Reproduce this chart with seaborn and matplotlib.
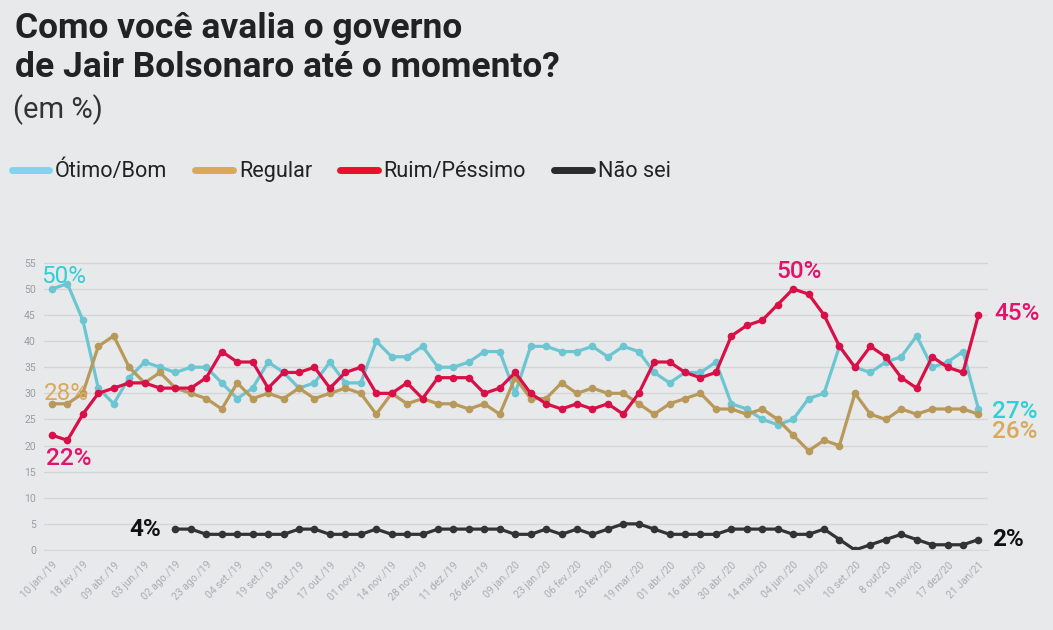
import numpy as np
import pandas as pd
import matplotlib
matplotlib.use('Agg')
import matplotlib.pyplot as plt
from matplotlib.lines import Line2D
import seaborn as sns

# datas das pesquisas (rótulo a cada duas pesquisas)
rotulos = ['10 jan./19', '18 fev./19', '09 abr./19', '03 jun./19', '02 ago./19', '23 ago./19',
           '04 set./19', '19 set./19', '04 out./19', '17 out./19', '01 nov./19', '14 nov./19',
           '28 nov./19', '11 dez./19', '26 dez./19', '09 jan./20', '23 jan./20', '06 fev./20',
           '20 fev./20', '19 mar./20', '01 abr./20', '16 abr./20', '30 abr./20', '14 mai./20',
           '04 jun./20', '10 jul./20', '10 set./20', '8 out/20', '19 nov/20', '17 dez/20',
           '21 Jan/21']

otimo_bom = [50, 51, 44, 31, 28, 33, 36, 35, 34, 35, 35, 32, 29, 31, 36, 34, 31, 32, 36, 32,
             32, 40, 37, 37, 39, 35, 35, 36, 38, 38, 30, 39, 39, 38, 38, 39, 37, 39, 38, 34,
             32, 34, 34, 36, 28, 27, 25, 24, 25, 29, 30, 39, 35, 34, 36, 37, 41, 35, 36, 38, 27]
regular = [28, 28, 30, 39, 41, 35, 32, 34, 31, 30, 29, 27, 32, 29, 30, 29, 31, 29, 30, 31,
           30, 26, 30, 28, 29, 28, 28, 27, 28, 26, 33, 29, 29, 32, 30, 31, 30, 30, 28, 26,
           28, 29, 30, 27, 27, 26, 27, 25, 22, 19, 21, 20, 30, 26, 25, 27, 26, 27, 27, 27, 26]
ruim_pessimo = [22, 21, 26, 30, 31, 32, 32, 31, 31, 31, 33, 38, 36, 36, 31, 34, 34, 35, 31, 34,
                35, 30, 30, 32, 29, 33, 33, 33, 30, 31, 34, 30, 28, 27, 28, 27, 28, 26, 30, 36,
                36, 34, 33, 34, 41, 43, 44, 47, 50, 49, 45, 39, 35, 39, 37, 33, 31, 37, 35, 34, 45]
nao_sei = [np.nan] * 8 + [4, 4, 3, 3, 3, 3, 3, 3, 4, 4, 3, 3, 3, 4, 3, 3, 3, 4, 4, 4,
                          4, 4, 3, 3, 4, 3, 4, 3, 4, 5, 5, 4, 3, 3, 3, 3, 4, 4, 4, 4,
                          3, 3, 4, 2, 0, 1, 2, 3, 2, 1, 1, 1, 2]

series = ['Ótimo/Bom', 'Regular', 'Ruim/Péssimo', 'Não sei']
cores_linha = ['#6cc6d2', '#b9995a', '#d90f48', '#333333']
cores_legenda = ['#80d4ee', '#d8a95b', '#e8102a', '#2b2b2b']
cores_texto = ['#2fd0d6', '#d9a95c', '#e3126a', '#111111']

n = len(otimo_bom)
df = pd.DataFrame({'idx': np.arange(n), 'Ótimo/Bom': otimo_bom, 'Regular': regular,
                   'Ruim/Péssimo': ruim_pessimo, 'Não sei': nao_sei})
longo = df.melt(id_vars='idx', var_name='serie', value_name='valor').dropna()

fundo = '#e8e9eb'
sns.set_style('white')
plt.rcParams['font.family'] = ['Roboto', 'DejaVu Sans']

fig = plt.figure(figsize=(10.53, 6.3), dpi=100, facecolor=fundo)
ax = fig.add_axes([0.042, 0.127, 0.896, 0.46])
ax.set_facecolor(fundo)

sns.lineplot(data=longo, x='idx', y='valor', hue='serie', hue_order=series,
             palette=dict(zip(series, cores_linha)), marker='o', markersize=5.5,
             markeredgewidth=0, linewidth=2.3, legend=False, ax=ax)

ax.set_xlim(-0.5, 60.6)
ax.set_ylim(0, 55.5)
ax.set_yticks(range(0, 56, 5))
ax.set_xticks(range(0, n, 2))
ax.set_xticklabels(rotulos, rotation=45, ha='right', rotation_mode='anchor')
ax.set_xticks(range(n), minor=True)
ax.tick_params(axis='x', which='both', length=4, color='#d6d7d9', labelsize=7.5,
               labelcolor='#aaacb0', pad=3)
ax.tick_params(axis='y', length=0, labelsize=7.5, labelcolor='#9a9ca0', pad=6)
ax.set_xlabel('')
ax.set_ylabel('')
ax.grid(axis='y', color='#d4d5d7', linewidth=1)
ax.set_axisbelow(True)
for lado in ['top', 'right', 'left']:
    ax.spines[lado].set_visible(False)
ax.spines['bottom'].set_color('#d6d7d9')

# rótulos de valores
fs = 17.5
ax.text(-0.7, 52.3, '50%', color=cores_texto[0], fontsize=fs, va='center')
ax.text(-0.5, 30.0, '28%', color=cores_texto[1], fontsize=fs, va='center')
ax.text(-0.4, 17.6, '22%', color=cores_texto[2], fontsize=fs, va='center',
        fontweight='medium')
ax.text(7.1, 3.9, '4%', color=cores_texto[3], fontsize=fs, va='center', ha='right',
        fontweight='bold')
ax.text(48.4, 53.4, '50%', color=cores_texto[2], fontsize=fs, va='center', ha='center',
        fontweight='medium')
ax.text(61.0, 45.2, '45%', color=cores_texto[2], fontsize=fs, va='center',
        fontweight='medium')
ax.text(60.9, 26.6, '27%', color=cores_texto[0], fontsize=fs, va='center',
        fontweight='medium')
ax.text(60.9, 22.6, '26%', color=cores_texto[1], fontsize=fs, va='center',
        fontweight='medium')
ax.text(60.9, 2.1, '2%', color=cores_texto[3], fontsize=fs, va='center',
        fontweight='bold')
for t in ax.texts:
    t.set_clip_on(False)

# título
fig.text(0.014, 0.981, 'Como você avalia o governo\nde Jair Bolsonaro até o momento?',
         fontsize=25.5, fontweight='bold', color='#222222', va='top', linespacing=1.22)
fig.text(0.012, 0.826, '(em %)', fontsize=21, color='#333333', va='center')

# legenda
alcas = [Line2D([], [], color=c, linewidth=5, solid_capstyle='round') for c in cores_legenda]
fig.legend(alcas, series, loc='center left', bbox_to_anchor=(0.011, 0.728), ncol=4,
           frameon=False, fontsize=15.6, handlelength=1.75, handletextpad=0.25,
           columnspacing=1.3, borderpad=0, borderaxespad=0, labelcolor='#222222')

fig.savefig('out.png', dpi=100, facecolor=fundo)
